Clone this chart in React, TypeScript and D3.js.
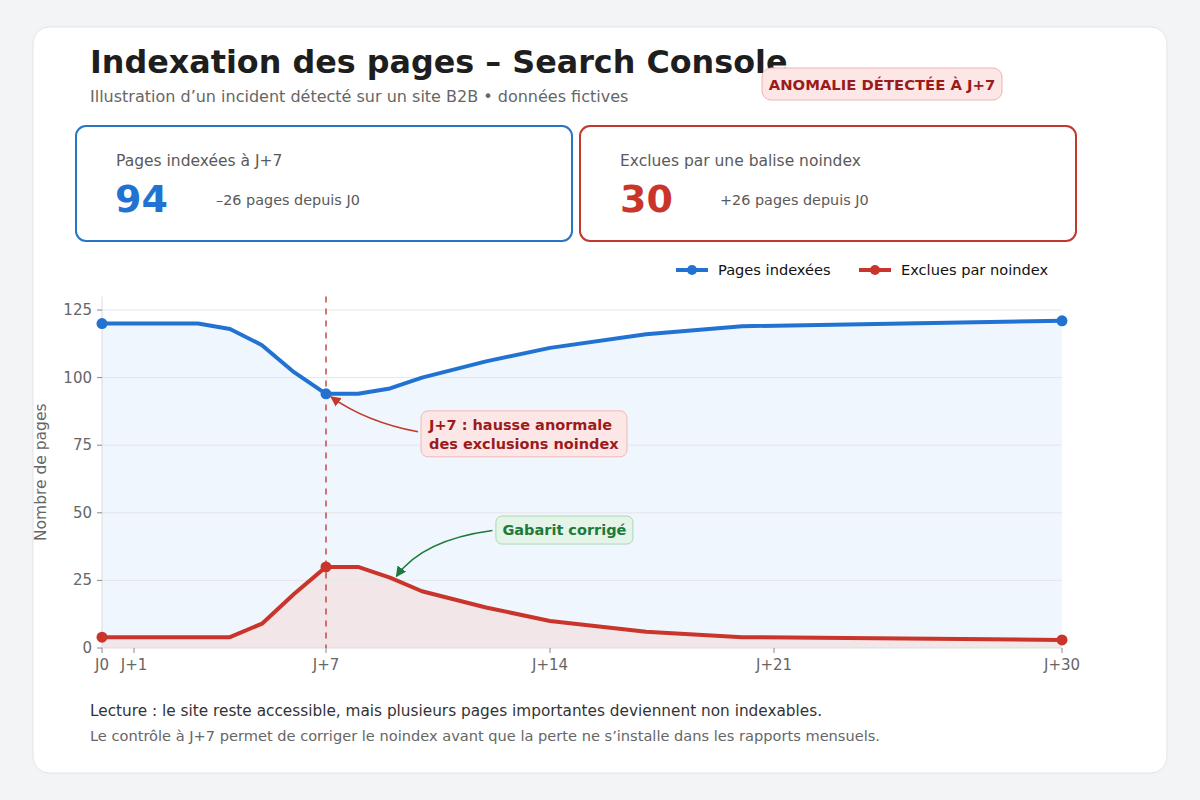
import React from "react";
import * as d3 from "d3";

const days = [0, 1, 2, 3, 4, 5, 6, 7, 8, 9, 10, 12, 14, 17, 20, 30];
const indexed = [120, 120, 120, 120, 118, 112, 102, 94, 94, 96, 100, 106, 111, 116, 119, 121];
const excluded = [4, 4, 4, 4, 4, 9, 20, 30, 30, 26, 21, 15, 10, 6, 4, 3];
const markerDays = [0, 7, 30];
const xTickDays = [0, 1, 7, 14, 21, 30];
const xTickLabels = ["J0", "J+1", "J+7", "J+14", "J+21", "J+30"];
const yTicks = [0, 25, 50, 75, 100, 125];
const seriesNames = ["Pages indexées", "Exclues par noindex"];

const BLUE = "#2272d2";
const RED = "#c9352b";
const FONT = "'DejaVu Sans', sans-serif";

export default function App() {
  const x = d3.scaleLinear().domain([0, 30]).range([102, 1062]);
  const y = d3.scaleLinear().domain([0, 130]).range([648, 296.5]);

  const ptsI = days.map((d, i) => [d, indexed[i]] as [number, number]);
  const ptsE = days.map((d, i) => [d, excluded[i]] as [number, number]);
  const line = d3
    .line<[number, number]>()
    .x((d) => x(d[0]))
    .y((d) => y(d[1]));
  const area = d3
    .area<[number, number]>()
    .x((d) => x(d[0]))
    .y0(y(0))
    .y1((d) => y(d[1]));

  const j7 = days.indexOf(7);
  const ax1 = x(7), ay1 = y(indexed[j7]);
  const ax2 = x(9.2), ay2 = y(26.5);

  return (
    <svg width={1200} height={800} style={{ display: "block", position: "absolute", left: 0, top: 0, fontFamily: FONT }}>
      <defs>
        <marker id="arrRed" viewBox="0 0 10 10" refX="9" refY="5" markerWidth="7" markerHeight="7" orient="auto-start-reverse">
          <path d="M0,0 L10,5 L0,10 z" fill="#c0392b" />
        </marker>
        <marker id="arrGreen" viewBox="0 0 10 10" refX="9" refY="5" markerWidth="7" markerHeight="7" orient="auto-start-reverse">
          <path d="M0,0 L10,5 L0,10 z" fill="#1e7a3a" />
        </marker>
      </defs>
      <rect x={0} y={0} width={1200} height={800} fill="#f3f4f6" />
      <rect x={33} y={27} width={1134} height={746} rx={16} fill="#ffffff" stroke="#e1e3e6" />

      <text x={90} y={73} fontSize={31.8} fontWeight="bold" fill="#1e1e1e">
        Indexation des pages – Search Console
      </text>
      <text x={90} y={102} fontSize={16} fill="#666666">
        Illustration d’un incident détecté sur un site B2B • données fictives
      </text>

      <rect x={762} y={68} width={240} height={32} rx={9} fill="#fde6e6" stroke="#efb3b3" />
      <text x={882} y={90} fontSize={14.8} fontWeight="bold" fill="#9b1b1b" textAnchor="middle">
        ANOMALIE DÉTECTÉE À J+7
      </text>

      <rect x={76} y={126} width={496} height={115} rx={10} fill="#fff" stroke="#2a74c4" strokeWidth={2} />
      <text x={116} y={166} fontSize={15.5} fill="#5a5a5a">Pages indexées à J+7</text>
      <text x={115} y={212} fontSize={38} fontWeight="bold" fill={BLUE}>94</text>
      <text x={216} y={205} fontSize={14.4} fill="#5a5a5a">–26 pages depuis J0</text>

      <rect x={580} y={126} width={496} height={115} rx={10} fill="#fff" stroke="#c0392b" strokeWidth={2} />
      <text x={620} y={166} fontSize={15.5} fill="#5a5a5a">Exclues par une balise noindex</text>
      <text x={620} y={212} fontSize={38} fontWeight="bold" fill={RED}>30</text>
      <text x={720} y={205} fontSize={14.4} fill="#5a5a5a">+26 pages depuis J0</text>

      {/* legend */}
      <g>
        <line x1={676} x2={708} y1={270} y2={270} stroke={BLUE} strokeWidth={4} />
        <circle cx={692} cy={270} r={5} fill={BLUE} />
        <text x={718} y={275} fontSize={14.6} fill="#111">{seriesNames[0]}</text>
        <line x1={859} x2={891} y1={270} y2={270} stroke={RED} strokeWidth={4} />
        <circle cx={875} cy={270} r={5} fill={RED} />
        <text x={901} y={275} fontSize={14.6} fill="#111">{seriesNames[1]}</text>
      </g>

      {/* plot */}
      <path d={area(ptsI) || ""} fill="#f0f6fd" />
      <path d={area(ptsE) || ""} fill="#f3e4e7" fillOpacity={0.9} />
      {yTicks.filter((t) => t > 0).map((t) => (
        <line key={t} x1={x(0)} x2={x(30)} y1={y(t)} y2={y(t)} stroke="#e4e6e9" strokeWidth={1} />
      ))}
      <line x1={x(0)} x2={x(0)} y1={y(130)} y2={y(0)} stroke="#d9dcdf" />
      <line x1={x(0)} x2={x(30)} y1={y(0)} y2={y(0)} stroke="#d9dcdf" />
      {yTicks.map((t) => (
        <g key={t}>
          <line x1={x(0) - 5} x2={x(0)} y1={y(t)} y2={y(t)} stroke="#888" />
          <text x={x(0) - 10} y={y(t) + 5} fontSize={15} fill="#666" textAnchor="end">{t}</text>
        </g>
      ))}
      {xTickDays.map((d, i) => (
        <g key={d}>
          <line x1={x(d)} x2={x(d)} y1={y(0)} y2={y(0) + 5} stroke="#888" />
          <text x={x(d)} y={y(0) + 22} fontSize={15} fill="#666" textAnchor="middle">{xTickLabels[i]}</text>
        </g>
      ))}
      <text transform={`translate(46,${(y(0) + y(130)) / 2}) rotate(-90)`} fontSize={15.5} fill="#666" textAnchor="middle">
        Nombre de pages
      </text>

      <line x1={x(7)} x2={x(7)} y1={y(130)} y2={y(0)} stroke="#c0392b" strokeOpacity={0.85} strokeWidth={1.6} strokeDasharray="6,6" />

      <path d={line(ptsI) || ""} fill="none" stroke={BLUE} strokeWidth={4} strokeLinejoin="round" />
      <path d={line(ptsE) || ""} fill="none" stroke={RED} strokeWidth={4} strokeLinejoin="round" />
      {markerDays.map((d) => {
        const i = days.indexOf(d);
        return (
          <g key={d}>
            <circle cx={x(d)} cy={y(indexed[i])} r={5.5} fill={BLUE} />
            <circle cx={x(d)} cy={y(excluded[i])} r={5.5} fill={RED} />
          </g>
        );
      })}

      {/* annotation 1 */}
      <path
        d={`M${ax1 + 92},${ay1 + 38} Q${ax1 + 40},${ay1 + 28} ${ax1 + 5},${ay1 + 3}`}
        fill="none"
        stroke="#c0392b"
        strokeWidth={1.5}
        markerEnd="url(#arrRed)"
      />
      <rect x={ax1 + 95} y={ay1 + 17} width={206} height={46} rx={7} fill="#fde6e6" stroke="#efb8b8" />
      <text x={ax1 + 103} y={ay1 + 36} fontSize={14.5} fontWeight="bold" fill="#9b1b1b">J+7 : hausse anormale</text>
      <text x={ax1 + 103} y={ay1 + 55} fontSize={14.5} fontWeight="bold" fill="#9b1b1b">des exclusions noindex</text>

      {/* annotation 2 */}
      <path
        d={`M${x(12.2)},${y(43.5)} Q${x(10)},${y(40)} ${ax2},${ay2}`}
        fill="none"
        stroke="#1e7a3a"
        strokeWidth={1.5}
        markerEnd="url(#arrGreen)"
      />
      <rect x={x(12.31)} y={y(48.8)} width={137} height={28} rx={6} fill="#e4f4e8" stroke="#a9d7b5" />
      <text x={x(12.31) + 68.5} y={y(48.8) + 19} fontSize={14.5} fontWeight="bold" fill="#1e7a3a" textAnchor="middle">
        Gabarit corrigé
      </text>

      <text x={90} y={716} fontSize={15.3} fill="#333">
        Lecture : le site reste accessible, mais plusieurs pages importantes deviennent non indexables.
      </text>
      <text x={90} y={741} fontSize={14.6} fill="#666">
        Le contrôle à J+7 permet de corriger le noindex avant que la perte ne s’installe dans les rapports mensuels.
      </text>
    </svg>
  );
}
